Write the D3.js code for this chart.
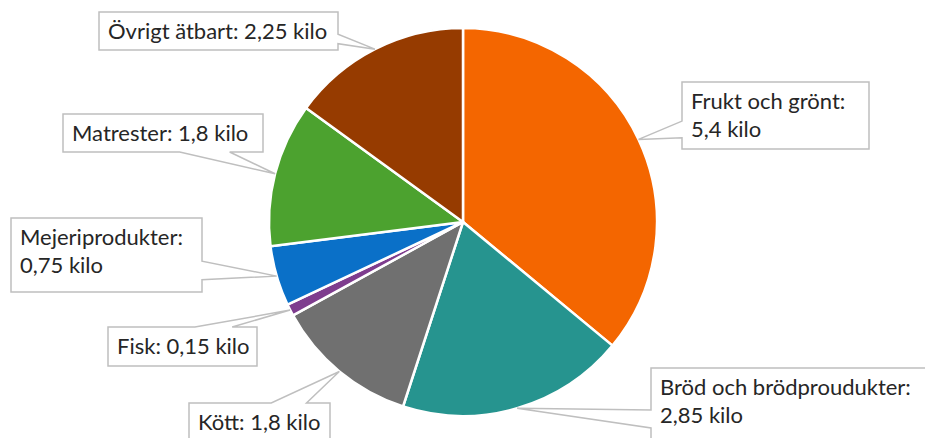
<!DOCTYPE html>
<html>
<head>
<meta charset="utf-8">
<script src="https://cdn.jsdelivr.net/npm/d3@7"></script>
<style>
  body { margin: 0; background: #fff; }
  text { font-family: Lato, "Open Sans", sans-serif; }
</style>
</head>
<body>
<svg width="925" height="438"></svg>
<script>
var svg = d3.select("svg");

// data, clockwise from 12 o'clock
var categories = ["Frukt och grönt", "Bröd och brödproudukter", "Kött", "Fisk",
  "Mejeriprodukter", "Matrester", "Övrigt ätbart"];
var kilos = [5.4, 2.85, 1.8, 0.15, 0.75, 1.8, 2.25];
var colors = ["#f46600", "#26948f", "#707070", "#7e3c8e", "#0a70c8", "#4ca22f", "#963b00"];

// callout boxes: [x, y, w, h, two lines?]
var boxes = [
  [682, 82, 187, 67, true],
  [651, 368, 290, 72, true],
  [189, 403, 141, 38, false],
  [108, 327, 149, 39, false],
  [11, 218, 191, 74, true],
  [63, 114, 200, 38, false],
  [99, 12, 239, 38, false]
];

var cx = 463, cy = 222, r = 194;

var pie = d3.pie().sort(null).value(function(d) { return d; });
var arc = d3.arc().innerRadius(0).outerRadius(r);
var arcs = pie(kilos);

var g = svg.append("g").attr("transform", "translate(" + cx + "," + cy + ")");

g.selectAll("path")
  .data(arcs)
  .enter().append("path")
  .attr("d", arc)
  .attr("fill", function(d, i) { return colors[i]; })
  .attr("stroke", "#fff")
  .attr("stroke-width", 2.5)
  .attr("stroke-linejoin", "round");

function fmt(v) { return String(v).replace(".", ","); }

// rect callout with a wedge pointing at (tx, ty), like the office shape
function callout(b, tx, ty) {
  var x = b[0], y = b[1], w = b[2], h = b[3];
  var dx = (tx - (x + w / 2)) / w, dy = (ty - (y + h / 2)) / h;
  var p = d3.path();
  var a1, a2;
  if (Math.abs(dx) > Math.abs(dy)) {
    a1 = dy > 0 ? y + h * 7 / 12 : y + h * 2 / 12;
    a2 = dy > 0 ? y + h * 10 / 12 : y + h * 5 / 12;
    p.moveTo(x, y);
    p.lineTo(x + w, y);
    if (dx > 0) { p.lineTo(x + w, a1); p.lineTo(tx, ty); p.lineTo(x + w, a2); }
    p.lineTo(x + w, y + h);
    p.lineTo(x, y + h);
    if (dx < 0) { p.lineTo(x, a2); p.lineTo(tx, ty); p.lineTo(x, a1); }
  } else {
    a1 = dx > 0 ? x + w * 7 / 12 : x + w * 2 / 12;
    a2 = dx > 0 ? x + w * 10 / 12 : x + w * 5 / 12;
    p.moveTo(x, y);
    if (dy < 0) { p.lineTo(a1, y); p.lineTo(tx, ty); p.lineTo(a2, y); }
    p.lineTo(x + w, y);
    p.lineTo(x + w, y + h);
    if (dy > 0) { p.lineTo(a2, y + h); p.lineTo(tx, ty); p.lineTo(a1, y + h); }
    p.lineTo(x, y + h);
  }
  p.closePath();
  return p.toString();
}

var labels = svg.append("g").selectAll("g")
  .data(arcs)
  .enter().append("g");

labels.append("path")
  .attr("d", function(d, i) {
    var a = (d.startAngle + d.endAngle) / 2;
    return callout(boxes[i], cx + r * Math.sin(a), cy - r * Math.cos(a));
  })
  .attr("fill", "#fff")
  .attr("stroke", "#bfbfbf")
  .attr("stroke-width", 1.5);

labels.each(function(d, i) {
  var b = boxes[i];
  var lines = b[4]
    ? [categories[i] + ":", fmt(kilos[i]) + " kilo"]
    : [categories[i] + ": " + fmt(kilos[i]) + " kilo"];
  var t = d3.select(this).append("text")
    .attr("fill", "#262626")
    .attr("font-size", "22px");
  lines.forEach(function(s, k) {
    t.append("tspan")
      .attr("x", b[0] + 9)
      .attr("y", b[1] + 27 + k * 27.5)
      .text(s);
  });
});
</script>
</body>
</html>
